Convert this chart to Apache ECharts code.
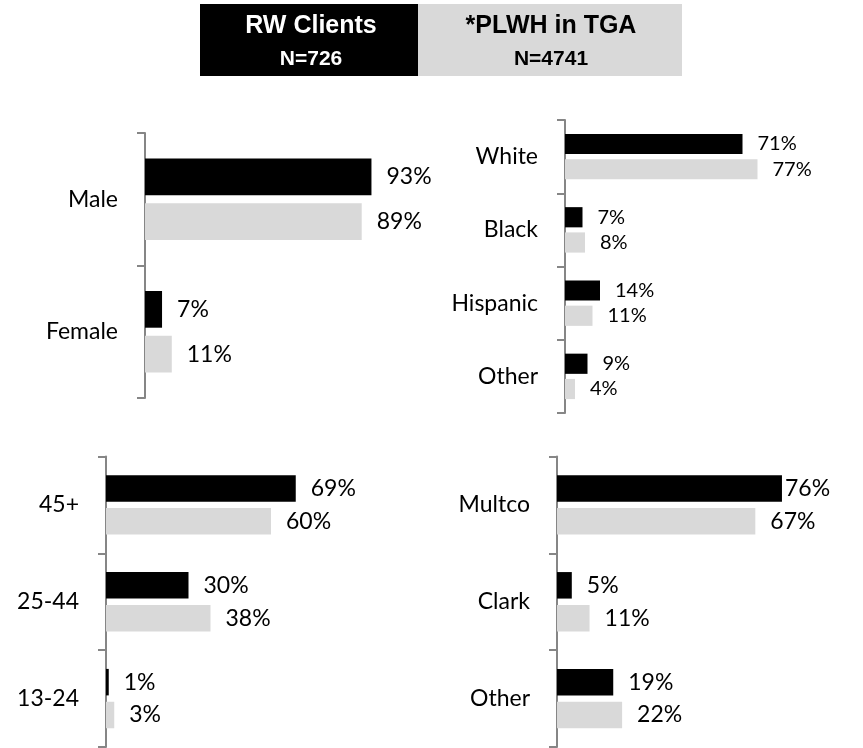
<!DOCTYPE html>
<html>
<head>
<meta charset="utf-8">
<script src="https://cdn.jsdelivr.net/npm/echarts@6/dist/echarts.min.js"></script>
<style>
  html, body { margin: 0; padding: 0; background: #fff; }
  #chart { width: 863px; height: 748px; }
</style>
</head>
<body>
<div id="chart"></div>
<script>
// chart data
const genderCats = ['Male', 'Female']
const genderRW = [93, 7]
const genderPLWH = [89, 11]

const raceCats = ['White', 'Black', 'Hispanic', 'Other']
const raceRW = [71, 7, 14, 9]
const racePLWH = [77, 8, 11, 4]

const ageCats = ['45+', '25-44', '13-24']
const ageRW = [69, 30, 1]
const agePLWH = [60, 38, 3]

const countyCats = ['Multco', 'Clark', 'Other']
const countyRW = [76, 5, 19]
const countyPLWH = [67, 11, 22]

const rwName = 'RW Clients'
const rwN = 'N=726'
const plwhName = '*PLWH in TGA'
const plwhN = 'N=4741'

const FONT = 'Lato'
const AXIS_GREY = '#868686'
const BLACK = '#000000'
const GREY = '#d9d9d9'

const chart = echarts.init(document.getElementById('chart'))

// one grid per panel
const grids = [
    { left: 145, top: 133, width: 243.5, height: 265 },
    { left: 565, top: 120, width: 250, height: 293 },
    { left: 106, top: 456.5, width: 275, height: 290.5 },
    { left: 557, top: 456.5, width: 296, height: 290.5 }
]
const cats = [genderCats, raceCats, ageCats, countyCats]
const barWidths = [36.7, 20.2, 26.5, 26.5]
const barGaps = ['22%', '25%', '24%', '24%']
const labelSizes = [23, 20, 23, 23]

function catAxis (i) {
    return {
        type: 'category',
        gridIndex: i,
        inverse: true,
        data: cats[i],
        axisLine: { show: true, lineStyle: { color: AXIS_GREY, width: 2 } },
        axisTick: { show: true, length: 8, lineStyle: { color: AXIS_GREY, width: 2 } },
        axisLabel: { color: '#000', fontSize: 23, fontFamily: FONT, margin: 27 }
    }
}

function valAxis (i) {
    return { type: 'value', gridIndex: i, min: 0, max: 100, show: false }
}

function barSeries (i, name, data, color) {
    return {
        name: name,
        type: 'bar',
        xAxisIndex: i,
        yAxisIndex: i,
        data: data,
        barWidth: barWidths[i],
        barGap: barGaps[i],
        itemStyle: { color: color },
        label: {
            show: true,
            position: 'right',
            distance: 15,
            formatter: '{c}%',
            color: '#000',
            fontSize: labelSizes[i],
            fontFamily: FONT
        },
        animation: false
    }
}

// Multco label sits closer to its bar in the original
const countyRWData = countyRW.map((v, i) => i === 0 ? { value: v, label: { distance: 3 } } : v)

const option = {
    animation: false,
    grid: grids,
    xAxis: [0, 1, 2, 3].map(valAxis),
    yAxis: [0, 1, 2, 3].map(catAxis),
    series: [
        barSeries(0, rwName, genderRW, BLACK),
        barSeries(0, plwhName, genderPLWH, GREY),
        barSeries(1, rwName, raceRW, BLACK),
        barSeries(1, plwhName, racePLWH, GREY),
        barSeries(2, rwName, ageRW, BLACK),
        barSeries(2, plwhName, agePLWH, GREY),
        barSeries(3, rwName, countyRWData, BLACK),
        barSeries(3, plwhName, countyPLWH, GREY)
    ],
    graphic: [
        // header "legend" boxes
        { type: 'rect', left: 200, top: 4, shape: { width: 218, height: 72 }, style: { fill: BLACK } },
        { type: 'rect', left: 418, top: 4, shape: { width: 264, height: 72 }, style: { fill: GREY } },
        {
            type: 'text', x: 311, y: 26,
            style: { text: rwName, fill: '#fff', font: 'bold 25px "Liberation Sans"', textAlign: 'center', textVerticalAlign: 'middle' }
        },
        {
            type: 'text', x: 311, y: 59,
            style: { text: rwN, fill: '#fff', font: 'bold 21px "Liberation Sans"', textAlign: 'center', textVerticalAlign: 'middle' }
        },
        {
            type: 'text', x: 551, y: 26,
            style: { text: plwhName, fill: '#000', font: 'bold 25px "Liberation Sans"', textAlign: 'center', textVerticalAlign: 'middle' }
        },
        {
            type: 'text', x: 551, y: 59,
            style: { text: plwhN, fill: '#000', font: 'bold 21px "Liberation Sans"', textAlign: 'center', textVerticalAlign: 'middle' }
        }
    ]
}

chart.setOption(option)
</script>
</body>
</html>
